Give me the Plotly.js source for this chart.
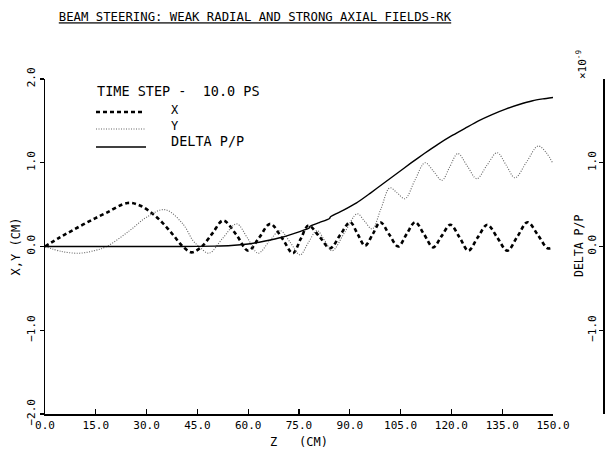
<!DOCTYPE html>
<html>
<head>
<meta charset="utf-8">
<script src="https://cdn.plot.ly/plotly-3.0.1.min.js"></script>
<style>html,body{margin:0;padding:0;background:#fff;}#chart{width:610px;height:449px;}</style>
</head>
<body>
<div id="chart"></div>
<script>
// ---- Data ----
var zX = [0, 4, 8, 13, 18, 24.4, 28, 31.8, 35, 38, 40.7, 43.3, 46.3, 49.5, 52.6, 56.5, 60, 63.3, 66.5, 70, 73.2, 75.5, 77.8, 81, 84.2, 87.2, 90.1, 92.3, 94.5, 96.8, 99, 101.7, 104.3, 106.8, 109.3, 112, 114.6, 117.2, 119.7, 122.4, 125, 127.8, 130.6, 133.5, 136.5, 139.5, 142.5, 145.5, 148.4, 150];
var xVals = [0, 0.1, 0.19, 0.3, 0.40, 0.52, 0.49, 0.39, 0.27, 0.13, 0, -0.07, 0, 0.16, 0.31, 0.14, -0.05, 0.11, 0.27, 0.10, -0.08, 0.09, 0.25, 0.12, -0.02, 0.14, 0.29, 0.15, 0.01, 0.15, 0.29, 0.14, 0.0, 0.15, 0.29, 0.14, -0.01, 0.13, 0.26, 0.11, -0.05, 0.11, 0.26, 0.11, -0.05, 0.12, 0.29, 0.14, -0.02, -0.01];

var zY = [0, 5, 10.2, 14.5, 18.2, 25, 30, 35.4, 40.7, 43.7, 45.5, 48.4, 52.5, 56.6, 59.8, 62.9, 66.2, 69.4, 72.4, 75.3, 77.8, 80.3, 82.6, 84.8, 88.5, 92.2, 94.4, 96.6, 99.2, 101.8, 104, 106.3, 109.2, 112.2, 114.7, 117.2, 119.5, 121.9, 124.7, 127.5, 130.5, 133.5, 136.2, 138.8, 142.2, 145.6, 148, 150];
var yVals = [0, -0.06, -0.08, -0.05, 0, 0.19, 0.35, 0.44, 0.27, 0.07, 0, -0.08, 0.1, 0.27, 0.1, -0.08, 0.06, 0.19, 0.05, -0.1, 0.05, 0.19, 0.07, -0.05, 0.17, 0.39, 0.3, 0.21, 0.45, 0.70, 0.64, 0.57, 0.79, 1.0, 0.9, 0.79, 0.95, 1.11, 0.96, 0.81, 0.97, 1.12, 0.97, 0.82, 1.01, 1.20, 1.12, 0.99];

var zP = [0, 20, 40, 50, 55, 60, 65, 70, 75, 78, 78.2, 81, 84, 84.3, 88, 92, 96, 100, 104, 108, 112, 116, 120, 124, 128, 132, 136, 140, 144, 147, 150];
var dpVals = [0, 0, 0, 0.005, 0.012, 0.03, 0.065, 0.11, 0.175, 0.22, 0.24, 0.285, 0.335, 0.355, 0.43, 0.52, 0.635, 0.755, 0.875, 0.995, 1.11, 1.22, 1.32, 1.41, 1.50, 1.575, 1.64, 1.695, 1.74, 1.762, 1.78];

var xTicks = [0, 15, 30, 45, 60, 75, 90, 105, 120, 135, 150];
var yTicks = [-2, -1, 0, 1, 2];

var titleText = "BEAM STEERING: WEAK RADIAL AND STRONG AXIAL FIELDS-RK";
var legendTitle = "TIME STEP -\u00a0\u00a010.0 PS";
var seriesNames = ["X", "Y", "DELTA P/P"];

// ---- Layout helpers ----
var W = 610, H = 449, L = 45, R = 7, T = 79, B = 35;
var PW = W - L - R, PH = H - T - B;
function px(x) { return (x - L) / PW; }
function py(y) { return (H - B - y) / PH; }

var FONT = "DejaVu Sans Mono, monospace";

var traces = [
  {x: zX, y: xVals, type: 'scatter', mode: 'lines', name: seriesNames[0],
   line: {color: '#000', width: 2.6, dash: '4px,3px', shape: 'spline', smoothing: 1}, xaxis: 'x', yaxis: 'y'},
  {x: zY, y: yVals, type: 'scatter', mode: 'lines', name: seriesNames[1],
   line: {color: '#666', width: 1.1, dash: '1px,1.5px', shape: 'spline', smoothing: 1}, xaxis: 'x', yaxis: 'y'},
  {x: zP, y: dpVals, type: 'scatter', mode: 'lines', name: seriesNames[2],
   line: {color: '#000', width: 1.4, shape: 'spline', smoothing: 0.6}, xaxis: 'x', yaxis: 'y2'}
];

var axisCommon = {showgrid: false, zeroline: false, showline: true, linecolor: '#000', linewidth: 1.5,
  tickcolor: '#000', tickwidth: 1.3, tickfont: {family: FONT, size: 11, color: '#000'}};

var layout = {
  width: W, height: H,
  margin: {l: L, r: R, t: T, b: B, pad: 0},
  paper_bgcolor: '#fff', plot_bgcolor: '#fff',
  showlegend: false,
  font: {family: FONT, color: '#000'},
  title: {text: '<u>' + titleText + '</u>', xref: 'paper', x: px(255), xanchor: 'center',
          yref: 'container', y: 1 - 17 / H, yanchor: 'middle', font: {family: FONT, size: 12.3, color: '#000'}},
  xaxis: Object.assign({}, axisCommon, {
    domain: [0, 508 / PW], range: [0, 150], tickvals: xTicks, tickformat: '.1f',
    ticks: 'inside', ticklen: 5, anchor: 'y',
    title: {text: 'Z\u00a0\u00a0\u00a0(CM)', font: {family: FONT, size: 12, color: '#000'}, standoff: 8}
  }),
  yaxis: Object.assign({}, axisCommon, {
    range: [-2, 2], tickvals: yTicks, tickformat: '.1f', ticks: 'outside', ticklen: 4, tickangle: -90,
    anchor: 'x',
    title: {text: 'X,Y (CM)', font: {family: FONT, size: 12, color: '#000'}, standoff: 2}
  }),
  yaxis2: Object.assign({}, axisCommon, {
    range: [-2, 2], tickvals: yTicks, tickformat: '.1f', ticks: 'inside', ticklen: 4, tickangle: -90,
    overlaying: 'y', anchor: 'free', position: 1, side: 'right', ticklabelposition: 'inside'
  }),
  shapes: [
    {type: 'line', xref: 'paper', yref: 'paper', x0: px(96), x1: px(145), y0: py(112), y1: py(112),
     line: {color: '#000', width: 2.6, dash: '4px,3px'}},
    {type: 'line', xref: 'paper', yref: 'paper', x0: px(96), x1: px(145), y0: py(129), y1: py(129),
     line: {color: '#666', width: 1.1, dash: '1px,1.5px'}},
    {type: 'line', xref: 'paper', yref: 'paper', x0: px(96), x1: px(146), y0: py(147), y1: py(147),
     line: {color: '#000', width: 1.4}}
  ],
  annotations: [
    {text: legendTitle, xref: 'paper', yref: 'paper', x: px(95), y: py(91), xanchor: 'left', yanchor: 'middle',
     showarrow: false, font: {family: FONT, size: 13.5, color: '#000'}},
    {text: seriesNames[0], xref: 'paper', yref: 'paper', x: px(169), y: py(110), xanchor: 'left', yanchor: 'middle',
     showarrow: false, font: {family: FONT, size: 12, color: '#000'}},
    {text: seriesNames[1], xref: 'paper', yref: 'paper', x: px(169), y: py(126), xanchor: 'left', yanchor: 'middle',
     showarrow: false, font: {family: FONT, size: 12, color: '#000'}},
    {text: seriesNames[2], xref: 'paper', yref: 'paper', x: px(169), y: py(141), xanchor: 'left', yanchor: 'middle',
     showarrow: false, font: {family: FONT, size: 13.5, color: '#000'}},
    {text: 'DELTA P/P', xref: 'paper', yref: 'paper', x: px(579), y: py(246), xanchor: 'center', yanchor: 'middle',
     textangle: -90, showarrow: false, font: {family: FONT, size: 11.5, color: '#000'}},
    {text: '\u00d710<sup>-9</sup>', xref: 'paper', yref: 'paper', x: px(581), y: py(64), xanchor: 'center', yanchor: 'middle',
     textangle: -90, showarrow: false, font: {family: FONT, size: 11, color: '#000'}}
  ]
};

Plotly.newPlot('chart', traces, layout, {staticPlot: true, displayModeBar: false});
</script>
</body>
</html>
